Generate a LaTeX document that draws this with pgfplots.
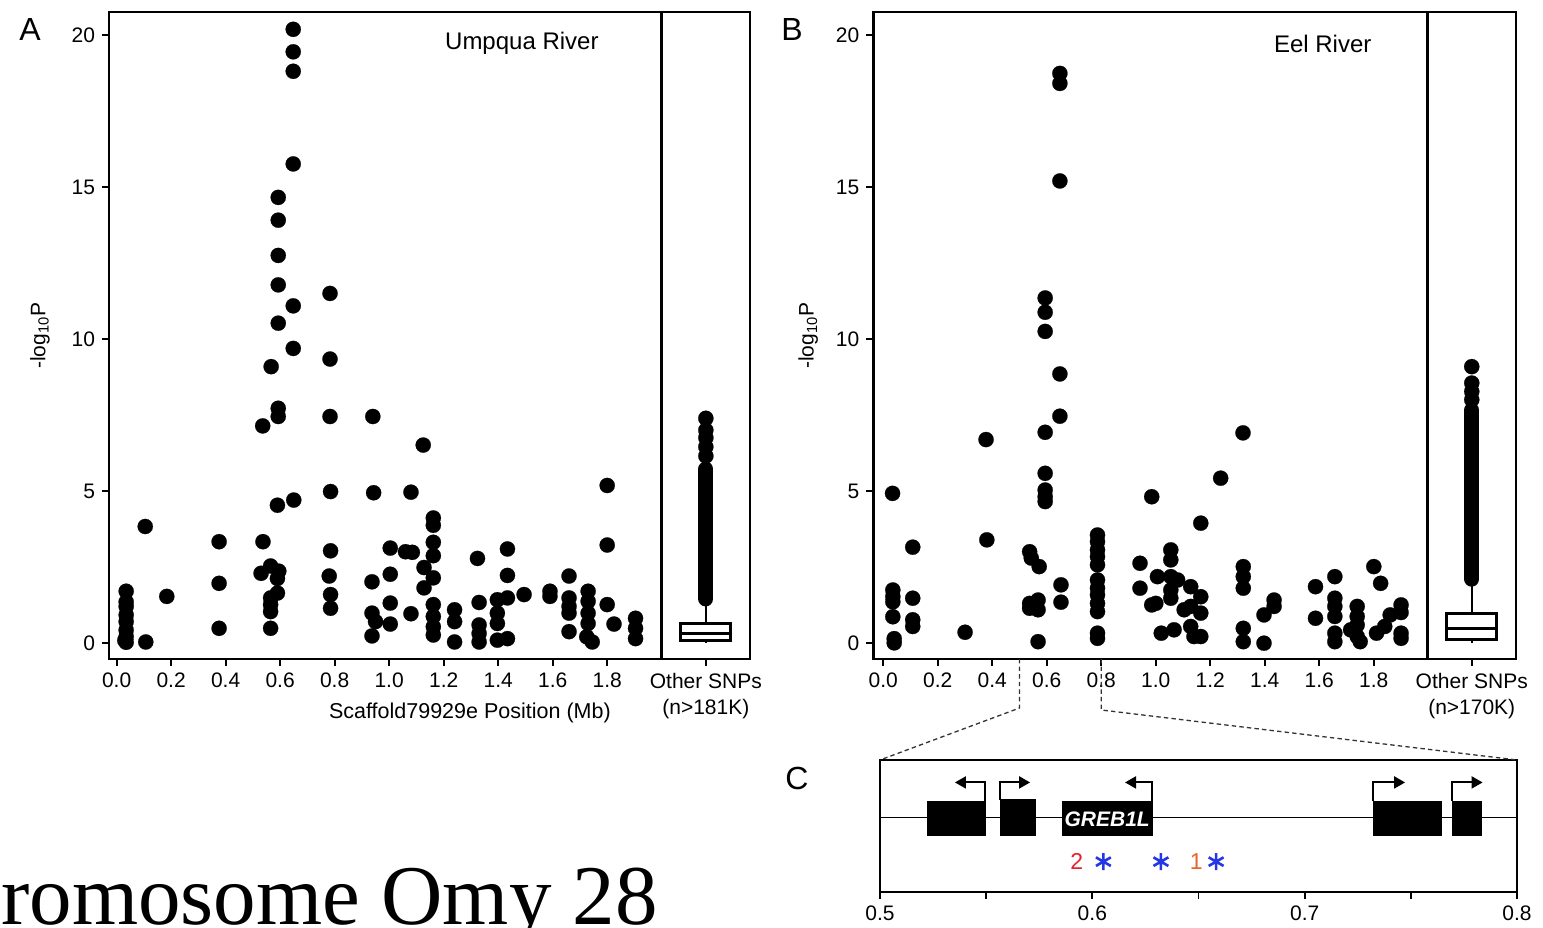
\documentclass[border=0pt]{standalone}
\usepackage{fontspec}
\setmainfont{Liberation Sans}
\newfontfamily\timesfont{Liberation Serif}
\usepackage{pgfplots}
\pgfplotsset{compat=1.18}
\usetikzlibrary{arrows.meta}
\definecolor{astblue}{RGB}{35,55,230}
\definecolor{numred}{RGB}{225,35,45}
\definecolor{numorange}{RGB}{232,100,45}
\pgfplotsset{
  panel/.style={
    scale only axis, anchor=south west,
    axis line style={line width=1.4pt},
    every tick/.style={black, line width=0.9pt},
    tick align=outside, major tick length=3.5pt, minor tick length=3.5pt,
    tick pos=left,
    ticklabel style={font=\fontsize{10.5}{13}\selectfont},
    /pgf/number format/assume math mode=true,
  },
  scat/.style={panel, height=323.5pt, ymin=-0.53, ymax=20.76,
    ytick={0,5,10,15,20},
    xtick={0,0.2,0.4,0.6,0.8,1.0,1.2,1.4,1.6,1.8},
    xticklabels={0.0,0.2,0.4,0.6,0.8,1.0,1.2,1.4,1.6,1.8},
    ylabel style={font=\fontsize{10.5}{12}\selectfont, rotate=0},
  },
  boxp/.style={panel, height=323.5pt, ymin=-0.53, ymax=20.76, xmin=0, xmax=1,
    ytick=\empty, xtick={0.5},
    xticklabel style={align=center, font=\fontsize{10.5}{13}\selectfont}},
  dots/.style={only marks, mark=*, mark size=3.8pt, mark options={fill=black, draw=black, line width=0.1pt}},
}
\begin{document}
\begin{tikzpicture}
\useasboundingbox (0pt,0pt) rectangle (771.5pt,463.5pt);
\fill[white] (0pt,0pt) rectangle (771.5pt,463.5pt);

% ---------------- Panel A scatter
\begin{axis}[scat, at={(54.5pt,134pt)}, width=276.35pt, xmin=-0.028, xmax=2.0,
  ylabel={-log\textsubscript{10}P},
  ylabel style={at={([xshift=-34.5pt]rel axis cs:0,0.5)}, anchor=center},
  xlabel={Scaffold79929e Position (Mb)},
  xlabel style={font=\fontsize{10.75}{12}\selectfont, at={([yshift=-27pt]rel axis cs:0.653,0)}, anchor=center}]
\addplot[dots] coordinates {
(0.035,1.70)(0.035,1.35)(0.035,1.20)(0.035,0.92)(0.035,0.70)(0.035,0.42)(0.035,0.20)(0.035,0.02)(0.03,0.08)
(0.105,3.83)(0.107,0.03)(0.184,1.53)
(0.376,3.33)(0.376,1.96)(0.376,0.48)
(0.537,3.33)(0.53,2.29)(0.565,2.53)(0.595,2.36)(0.59,2.12)(0.59,1.64)(0.565,1.48)(0.565,1.26)(0.565,1.03)(0.565,0.48)
(0.59,4.53)(0.65,4.70)
(0.785,4.98)(0.785,3.03)(0.78,2.20)(0.785,1.59)(0.785,1.14)
(0.943,4.94)(0.937,2.01)(0.937,0.98)(0.95,0.70)(0.937,0.23)
(1.004,3.12)(1.004,2.26)(1.004,1.31)(1.004,0.62)
(1.08,4.96)(1.06,3.0)(1.085,2.98)(1.08,0.96)
(1.162,4.11)(1.162,3.87)(1.162,3.31)(1.162,2.87)(1.128,2.48)(1.162,2.14)(1.128,1.81)(1.162,1.26)(1.162,0.87)(1.162,0.53)(1.162,0.26)
(1.24,1.09)(1.24,0.7)(1.24,0.03)
(1.324,2.78)(1.33,1.33)(1.33,0.59)(1.33,0.31)(1.33,0.03)
(1.434,3.09)(1.434,2.22)(1.397,1.42)(1.434,1.48)(1.495,1.59)(1.397,0.98)(1.397,0.64)(1.397,0.09)(1.434,0.14)
(1.59,1.70)(1.59,1.53)
(1.66,2.2)(1.66,1.48)(1.66,1.2)(1.66,0.98)(1.66,0.37)
(1.73,1.70)(1.73,1.37)(1.73,0.98)(1.73,0.64)(1.725,0.2)(1.745,0.03)
(1.80,5.18)(1.80,3.22)(1.80,1.26)(1.825,0.62)
(1.904,0.81)(1.904,0.48)(1.904,0.14)
(0.648,20.19)(0.648,19.45)(0.648,18.81)(0.648,15.76)(0.593,14.66)(0.593,13.91)(0.593,12.75)(0.593,11.78)
(0.783,11.50)(0.648,11.09)(0.593,10.52)(0.648,9.69)(0.783,9.34)(0.567,9.09)(0.783,7.45)(0.94,7.45)
(0.593,7.72)(0.593,7.45)(0.536,7.14)(1.125,6.51)
};
\node[font=\fontsize{12}{12}\selectfont] at (rel axis cs:0.747,0.951) {Umpqua River};
\end{axis}

% ---------------- Panel A box
\begin{axis}[boxp, at={(330.85pt,134pt)}, width=44.15pt,
  xticklabels={Other SNPs\\(n>181K)}]
\addplot[line width=7.6pt, line cap=round] coordinates {(0.5,1.45) (0.5,5.72)};
\addplot[dots] coordinates {(0.5,6.15)(0.5,6.45)(0.5,6.75)(0.5,7.0)(0.5,7.39)};
\addplot[line width=1pt] coordinates {(0.5,0.65) (0.5,1.3)};
\addplot[line width=1pt] coordinates {(0.5,0.0) (0.5,0.08)};
\addplot[fill=white, draw=black, line width=1.5pt] coordinates {(0.217,0.08) (0.783,0.08) (0.783,0.65) (0.217,0.65)} -- cycle;
\addplot[line width=1.5pt] coordinates {(0.217,0.3) (0.783,0.3)};
\end{axis}

% ---------------- Panel B scatter
\begin{axis}[scat, at={(436.65pt,134pt)}, width=277.1pt, xmin=-0.0367, xmax=1.997,
  ylabel={-log\textsubscript{10}P},
  ylabel style={at={([xshift=-32.5pt]rel axis cs:0,0.5)}, anchor=center}]
\addplot[dots] coordinates {
(0.034,4.92)
(0.035,1.74)(0.035,1.52)(0.035,1.35)(0.035,0.86)(0.04,0.14)(0.04,0.0)
(0.108,3.15)(0.108,1.47)(0.108,0.76)(0.108,0.54)
(0.30,0.35)
(0.38,3.39)(0.377,6.69)
(0.537,3.0)(0.543,2.79)(0.572,2.51)
(0.537,1.30)(0.568,1.41)(0.568,1.09)(0.537,1.14)(0.568,0.04)
(0.594,5.58)(0.594,5.03)(0.594,4.81)(0.594,4.65)
(0.652,1.91)(0.652,1.34)
(0.786,3.55)(0.786,3.33)(0.786,3.06)(0.786,2.84)(0.786,2.57)(0.786,2.07)(0.786,1.8)(0.786,1.58)(0.786,1.3)(0.786,1.03)(0.786,0.32)(0.786,0.15)
(0.942,2.62)(0.942,1.8)(0.985,4.81)(0.985,1.25)
(1.238,5.42)(1.165,3.94)(1.055,3.06)(1.055,2.73)(1.006,2.18)(1.055,2.18)(1.08,2.07)(1.055,1.74)(1.055,1.47)(1.0,1.3)
(1.128,1.85)(1.165,1.52)(1.165,0.98)(1.128,1.2)(1.104,1.09)(1.02,0.32)(1.067,0.43)(1.14,0.21)(1.165,0.21)(1.128,0.54)
(1.321,2.51)(1.321,2.18)(1.321,1.8)(1.321,0.48)(1.321,0.04)(1.32,6.91)
(1.397,0.92)(1.434,1.41)(1.434,1.2)(1.397,-0.01)
(1.586,1.85)(1.586,0.81)
(1.657,2.18)(1.657,1.47)(1.657,1.2)(1.657,0.87)(1.657,0.32)(1.657,0.04)
(1.739,1.2)(1.739,0.87)(1.739,0.59)(1.739,0.21)(1.75,0.04)(1.715,0.43)
(1.80,2.51)(1.825,1.96)(1.81,0.32)(1.86,0.92)(1.9,1.25)(1.9,0.32)(1.9,0.15)(1.84,0.54)(1.9,1.0)
(0.648,18.74)(0.648,18.41)(0.648,15.2)(0.594,11.35)(0.594,10.88)(0.594,10.25)(0.648,8.85)(0.648,7.46)(0.594,6.93)
};
\node[font=\fontsize{12}{12}\selectfont] at (rel axis cs:0.811,0.951) {Eel River};
\coordinate (b05) at (axis cs:0.5,-0.53);
\coordinate (b08) at (axis cs:0.8,-0.53);
\end{axis}

% ---------------- Panel B box
\begin{axis}[boxp, at={(713.75pt,134pt)}, width=44.25pt,
  xticklabels={Other SNPs\\(n>170K)}]
\addplot[line width=7.6pt, line cap=round] coordinates {(0.5,2.1) (0.5,7.66)};
\addplot[dots] coordinates {(0.5,8.0)(0.5,8.27)(0.5,8.55)(0.5,9.09)};
\addplot[line width=1pt] coordinates {(0.5,0.97) (0.5,1.95)};
\addplot[line width=1pt] coordinates {(0.5,0.0) (0.5,0.1)};
\addplot[fill=white, draw=black, line width=1.5pt] coordinates {(0.217,0.1) (0.783,0.1) (0.783,0.97) (0.217,0.97)} -- cycle;
\addplot[line width=1.5pt] coordinates {(0.217,0.47) (0.783,0.47)};
\end{axis}

% ---------------- Panel C
\begin{axis}[panel, at={(440pt,17.5pt)}, width=318.5pt, height=66pt,
  xmin=0.5, xmax=0.8, ymin=0, ymax=1, ytick=\empty,
  xtick={0.5,0.6,0.7,0.8}, xticklabels={0.5,0.6,0.7,0.8},
  minor xtick={0.55,0.65,0.75}, clip=false]
\addplot[line width=0.7pt] coordinates {(0.5,0.565) (0.8,0.565)};
\addplot[fill=black, draw=black] coordinates {(0.5221,0.43) (0.5495,0.43) (0.5495,0.69) (0.5221,0.69)} -- cycle;
\addplot[fill=black, draw=black] coordinates {(0.5565,0.43) (0.573,0.43) (0.573,0.70) (0.5565,0.70)} -- cycle;
\addplot[fill=black, draw=black] coordinates {(0.5857,0.43) (0.6283,0.43) (0.6283,0.69) (0.5857,0.69)} -- cycle;
\addplot[fill=black, draw=black] coordinates {(0.7322,0.43) (0.7645,0.43) (0.7645,0.69) (0.7322,0.69)} -- cycle;
\addplot[fill=black, draw=black] coordinates {(0.7694,0.43) (0.7834,0.43) (0.7834,0.69) (0.7694,0.69)} -- cycle;
\addplot[line width=1pt, -{Triangle[length=5.5pt,width=6pt]}] coordinates {(0.5493,0.69) (0.5493,0.83) (0.5353,0.83)};
\addplot[line width=1pt, -{Triangle[length=5.5pt,width=6pt]}] coordinates {(0.5567,0.70) (0.5567,0.83) (0.5707,0.83)};
\addplot[line width=1pt, -{Triangle[length=5.5pt,width=6pt]}] coordinates {(0.6281,0.69) (0.6281,0.83) (0.6154,0.83)};
\addplot[line width=1pt, -{Triangle[length=5.5pt,width=6pt]}] coordinates {(0.7324,0.69) (0.7324,0.83) (0.7473,0.83)};
\addplot[line width=1pt, -{Triangle[length=5.5pt,width=6pt]}] coordinates {(0.7696,0.69) (0.7696,0.83) (0.7838,0.83)};
\node[text=white, font=\bfseries\itshape\fontsize{10.5}{10.5}\selectfont] at (axis cs:0.607,0.55) {GREB1L};
\addplot[only marks, mark=asterisk, mark size=4.3pt, astblue, line width=1.3pt] coordinates {(0.6052,0.23) (0.6323,0.23) (0.6583,0.23)};
\node[text=numred, font=\fontsize{11.5}{11.5}\selectfont] at (axis cs:0.5927,0.23) {2};
\node[text=numorange, font=\fontsize{11.5}{11.5}\selectfont] at (axis cs:0.649,0.23) {1};
\coordinate (ctl) at (rel axis cs:0,1);
\coordinate (ctr) at (rel axis cs:1,1);
\end{axis}

\draw[dash pattern=on 2.2pt off 1.6pt, line width=0.65pt, black!80] (b05) -- ([yshift=-24.5pt]b05) -- (ctl);
\draw[dash pattern=on 2.2pt off 1.6pt, line width=0.65pt, black!80] (b08) -- ([yshift=-25.5pt]b08) -- (ctr);

\node[font=\fontsize{16}{16}\selectfont] at (15pt,448.5pt) {A};
\node[font=\fontsize{16}{16}\selectfont] at (396pt,448.5pt) {B};
\node[font=\fontsize{16}{16}\selectfont] at (398.5pt,74.5pt) {C};
\node[anchor=base west, inner sep=0pt, font=\timesfont\fontsize{42.5}{42.5}\selectfont] at (0.5pt,1.5pt) {romosome Omy 28};
\end{tikzpicture}
\end{document}
